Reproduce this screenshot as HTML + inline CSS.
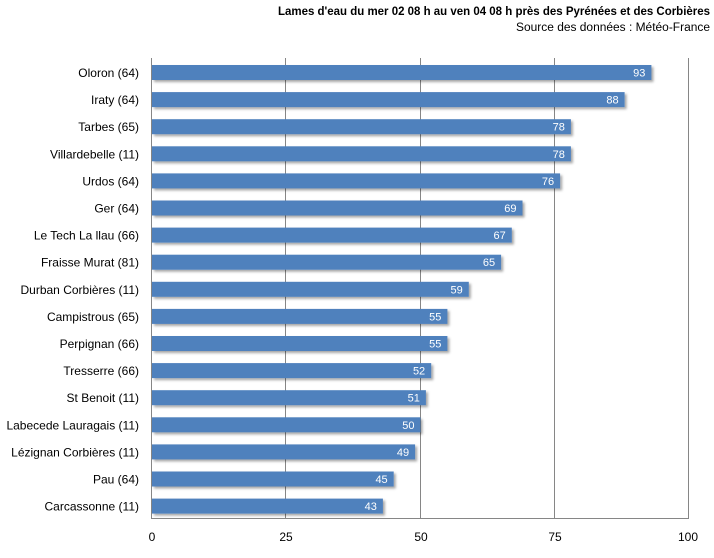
<!DOCTYPE html>
<html><head><meta charset="utf-8"><style>
body{margin:0;background:#fff;}
svg text{font-family:"Liberation Sans",sans-serif;}
</style></head><body>
<svg width="714" height="553" viewBox="0 0 714 553" xmlns="http://www.w3.org/2000/svg">
<defs><filter id="sh" x="-5%" y="-20%" width="115%" height="160%"><feDropShadow dx="2" dy="2" stdDeviation="1.2" flood-color="#000" flood-opacity="0.35"/></filter></defs>
<text x="710" y="15" text-anchor="end" font-size="11.5" font-weight="bold" textLength="432" lengthAdjust="spacingAndGlyphs">Lames d'eau du mer 02 08 h au ven 04 08 h près des Pyrénées et des Corbières</text>
<text x="710" y="31" text-anchor="end" font-size="11.5" textLength="194" lengthAdjust="spacingAndGlyphs">Source des données : Météo-France</text>
<g stroke="#868686" stroke-width="1">
<line x1="285.5" y1="58" x2="285.5" y2="518"/>
<line x1="420.5" y1="58" x2="420.5" y2="518"/>
<line x1="554.5" y1="58" x2="554.5" y2="518"/>
<line x1="688.5" y1="58" x2="688.5" y2="518"/>
<line x1="151.5" y1="58" x2="151.5" y2="518.5"/>
<line x1="151" y1="518.5" x2="689" y2="518.5"/>
</g>
<g font-size="12" fill="#000" text-anchor="middle">
<text x="152" y="541">0</text><text x="286" y="541">25</text><text x="421" y="541">50</text><text x="555" y="541">75</text><text x="688" y="541">100</text>
</g>
<g fill="#4f81bd" filter="url(#sh)">
<rect x="152" y="65" width="499.4" height="15"/>
<rect x="152" y="92.1" width="472.6" height="15"/>
<rect x="152" y="119.2" width="418.9" height="15"/>
<rect x="152" y="146.3" width="418.9" height="15"/>
<rect x="152" y="173.4" width="408.1" height="15"/>
<rect x="152" y="200.5" width="370.5" height="15"/>
<rect x="152" y="227.6" width="359.8" height="15"/>
<rect x="152" y="254.7" width="349.1" height="15"/>
<rect x="152" y="281.8" width="316.8" height="15"/>
<rect x="152" y="308.9" width="295.4" height="15"/>
<rect x="152" y="336" width="295.4" height="15"/>
<rect x="152" y="363.1" width="279.2" height="15"/>
<rect x="152" y="390.2" width="273.9" height="15"/>
<rect x="152" y="417.3" width="268.5" height="15"/>
<rect x="152" y="444.4" width="263.1" height="15"/>
<rect x="152" y="471.5" width="241.7" height="15"/>
<rect x="152" y="498.6" width="230.9" height="15"/>
</g>
<g font-size="11" fill="#fff" text-anchor="end">
<text x="645.4" y="76.5">93</text>
<text x="618.6" y="103.6">88</text>
<text x="564.9" y="130.7">78</text>
<text x="564.9" y="157.8">78</text>
<text x="554.1" y="184.9">76</text>
<text x="516.5" y="212">69</text>
<text x="505.8" y="239.1">67</text>
<text x="495.1" y="266.2">65</text>
<text x="462.8" y="293.3">59</text>
<text x="441.4" y="320.4">55</text>
<text x="441.4" y="347.5">55</text>
<text x="425.2" y="374.6">52</text>
<text x="419.9" y="401.7">51</text>
<text x="414.5" y="428.8">50</text>
<text x="409.1" y="455.9">49</text>
<text x="387.7" y="483">45</text>
<text x="376.9" y="510.1">43</text>
</g>
<g font-size="12" fill="#000" text-anchor="end">
<text x="139" y="77">Oloron (64)</text>
<text x="139" y="104.1">Iraty (64)</text>
<text x="139" y="131.2">Tarbes (65)</text>
<text x="139" y="158.3">Villardebelle (11)</text>
<text x="139" y="185.4">Urdos (64)</text>
<text x="139" y="212.5">Ger (64)</text>
<text x="139" y="239.6">Le Tech La llau (66)</text>
<text x="139" y="266.7">Fraisse Murat (81)</text>
<text x="139" y="293.8">Durban Corbières (11)</text>
<text x="139" y="320.9">Campistrous (65)</text>
<text x="139" y="348">Perpignan (66)</text>
<text x="139" y="375.1">Tresserre (66)</text>
<text x="139" y="402.2">St Benoit (11)</text>
<text x="139" y="429.3">Labecede Lauragais (11)</text>
<text x="139" y="456.4">Lézignan Corbières (11)</text>
<text x="139" y="483.5">Pau (64)</text>
<text x="139" y="510.6">Carcassonne (11)</text>
</g>
</svg>
</body></html>
